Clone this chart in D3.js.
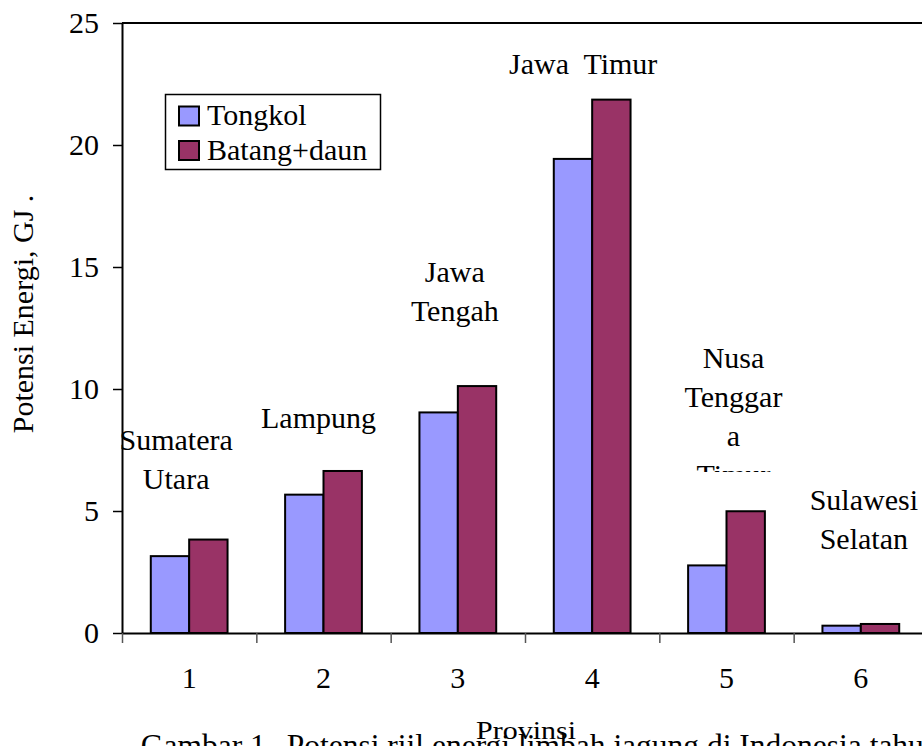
<!DOCTYPE html>
<html><head><meta charset="utf-8">
<script src="https://cdn.jsdelivr.net/npm/d3@7"></script>
<style>
html,body{margin:0;padding:0;background:#fff;}
svg{display:block;font-family:"Liberation Serif","Times New Roman",serif;}
svg text{font-family:"Liberation Serif","Times New Roman",serif;}
</style></head>
<body>
<svg id="chart" width="922" height="746"></svg>
<script>
// ---- data ----
const categories = ["1", "2", "3", "4", "5", "6"];
const seriesNames = ["Tongkol", "Batang+daun"];
const tongkol = [3.15, 5.67, 9.04, 19.43, 2.77, 0.30];
const batangDaun = [3.83, 6.64, 10.12, 21.86, 4.99, 0.37];
const provinceLabels = [
  ["Sumatera", "Utara"],
  ["Lampung"],
  ["Jawa", "Tengah"],
  ["Jawa  Timur"],
  ["Nusa", "Tenggar", "a", "Timur"],
  ["Sulawesi", "Selatan"]
];
const yTicks = [0, 5, 10, 15, 20, 25];
const yTitle = "Potensi Energi, GJ .";
const xTitle = "Provinsi";
const caption = "Gambar 1.";
const captionRest = "Potensi riil energi limbah jagung di Indonesia tahun";

// ---- layout ----
const colors = ["#9999FF", "#993366"];
const plot = {left: 122, right: 928, top: 23, bottom: 633};
const FS = 30;
const FONT = "Liberation Serif";
// label placement (offset from band centre in px, first baseline y in px)
const labelLayout = [
  {dx: -13, y: 450}, {dx: -5, y: 428}, {dx: -3, y: 282},
  {dx: -9, y: 74}, {dx: 7, y: 368}, {dx: 3, y: 510}
];
const lineGap = 39;

const svg = d3.select("#chart");
svg.append("rect").attr("width", 922).attr("height", 746).attr("fill", "#fff");

const x = d3.scaleBand().domain(categories).range([plot.left, plot.right]).paddingInner(0).paddingOuter(0);
const x1 = d3.scaleBand().domain(seriesNames).range([0, x.bandwidth()]).paddingInner(0).paddingOuter(0.75);
const y = d3.scaleLinear().domain([0, 25]).range([plot.bottom, plot.top]);
const xEdge = d3.scaleLinear().domain([0, categories.length]).range([plot.left, plot.right]);

// top border
svg.append("line").attr("x1", plot.left).attr("x2", plot.right)
  .attr("y1", y(25)).attr("y2", y(25)).attr("stroke", "#000").attr("stroke-width", 2);

// bars
const rows = categories.map((c, i) => ({cat: c, vals: [tongkol[i], batangDaun[i]]}));
const g = svg.append("g");
rows.forEach(r => {
  r.vals.forEach((v, j) => {
    g.append("rect")
      .attr("x", x(r.cat) + x1(seriesNames[j]))
      .attr("y", y(v))
      .attr("width", x1.bandwidth())
      .attr("height", y(0) - y(v))
      .attr("fill", colors[j])
      .attr("stroke", "#000").attr("stroke-width", 2);
  });
});

// y axis
const yAxis = svg.append("g").attr("transform", `translate(${plot.left},0)`)
  .call(d3.axisLeft(y).tickValues(yTicks).tickSize(9).tickSizeOuter(0).tickPadding(14));
yAxis.select(".domain").attr("stroke", "#000").attr("stroke-width", 2);
yAxis.selectAll(".tick line").attr("stroke", "#000").attr("stroke-width", 1.5);
yAxis.selectAll(".tick text").attr("font-size", FS).attr("font-family", FONT).attr("fill", "#000");

// x axis ticks at band edges
const xTickAxis = svg.append("g").attr("transform", `translate(0,${plot.bottom})`)
  .call(d3.axisBottom(xEdge).tickValues(d3.range(0, categories.length + 1)).tickSize(10).tickSizeOuter(0).tickFormat(""));
xTickAxis.select(".domain").attr("stroke", "#000").attr("stroke-width", 2);
xTickAxis.selectAll(".tick line").attr("stroke", "#555").attr("stroke-width", 1.5);
// x labels at band centres
const xAxis = svg.append("g").attr("transform", `translate(0,${plot.bottom})`)
  .call(d3.axisBottom(x).tickSize(0).tickPadding(34));
xAxis.select(".domain").remove();
xAxis.selectAll(".tick text").attr("font-size", FS).attr("font-family", FONT).attr("fill", "#000");

// province labels
svg.append("clipPath").attr("id", "ntclip").append("rect")
  .attr("x", 0).attr("y", 0).attr("width", 922).attr("height", 472);
provinceLabels.forEach((lines, i) => {
  const cx = x(categories[i]) + x.bandwidth() / 2 + labelLayout[i].dx;
  const t = svg.append("text")
    .attr("font-size", FS).attr("font-family", FONT).attr("text-anchor", "middle").attr("fill", "#000")
    .attr("xml:space", "preserve")
    .style("white-space", "pre");
  if (i === 4) t.attr("clip-path", "url(#ntclip)");
  lines.forEach((ln, k) => {
    t.append("tspan").attr("x", cx).attr("y", labelLayout[i].y + k * lineGap).text(ln);
  });
});

// legend
const lg = svg.append("g");
lg.append("rect").attr("x", 165.5).attr("y", 94.5).attr("width", 215).attr("height", 75)
  .attr("fill", "#fff").attr("stroke", "#000").attr("stroke-width", 1.5);
seriesNames.forEach((s, j) => {
  lg.append("rect").attr("x", 179).attr("y", 106.5 + j * 34.5).attr("width", 20).attr("height", 19)
    .attr("fill", colors[j]).attr("stroke", "#000").attr("stroke-width", 2);
  lg.append("text").attr("x", 207).attr("y", 125 + j * 35).attr("font-size", FS)
    .attr("font-family", FONT).attr("fill", "#000").text(s);
});

// y title
svg.append("text").attr("transform", "translate(33,314) rotate(-90)")
  .attr("text-anchor", "middle").attr("font-size", FS).attr("font-family", FONT).attr("fill", "#000").text(yTitle);

// x title (slightly squashed vertically)
svg.append("text").attr("transform", "translate(526,739) scale(1,0.83)")
  .attr("text-anchor", "middle").attr("font-size", FS).attr("font-family", FONT).attr("fill", "#000").text(xTitle);

// caption (cut off at bottom)
const cap = svg.append("text").attr("y", 756).attr("font-size", 31.5).attr("font-family", FONT).attr("fill", "#000");
cap.append("tspan").attr("x", 140.7).text(caption);
cap.append("tspan").attr("x", 286.7).text(captionRest);
</script>
</body></html>
